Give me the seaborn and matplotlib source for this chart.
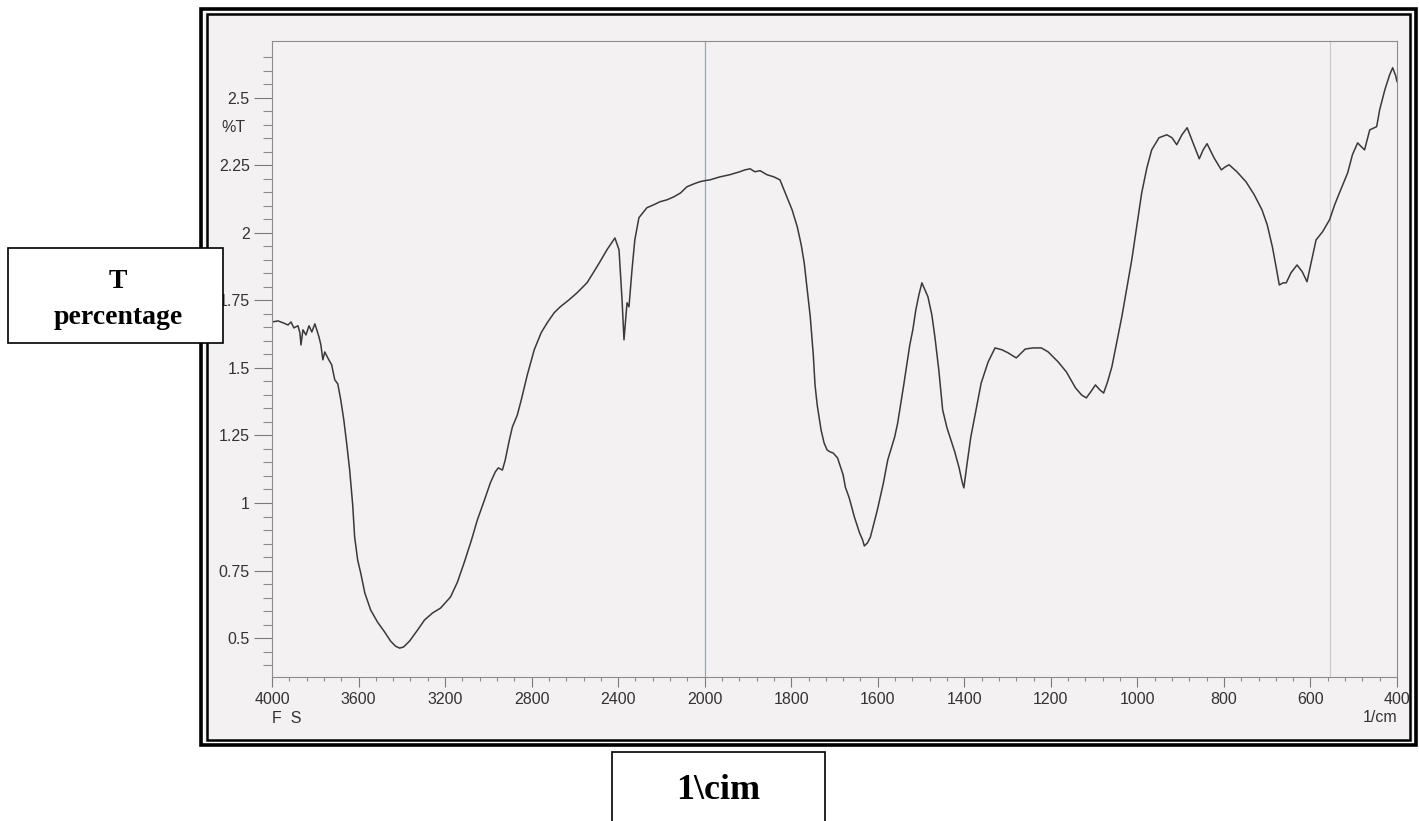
"""
FTIR spectrum (scanned print-out), redrawn with seaborn.
Shimadzu style x axis: scale doubles below 2000 1/cm.
"""

import numpy as np
import matplotlib
matplotlib.use("Agg")
import matplotlib.pyplot as plt
import matplotlib.transforms as mtransforms
from matplotlib.patches import Rectangle
from matplotlib.ticker import FixedLocator
import seaborn as sns


# spectrum (1/cm, %T)
wavenumber = [
    4000, 3972, 3949, 3926, 3912, 3899, 3880, 3871, 3866, 3857,
    3843, 3829, 3816, 3802, 3793, 3783, 3774, 3765, 3756, 3742,
    3724, 3710, 3696, 3682, 3668, 3654, 3641, 3627, 3618, 3604,
    3590, 3571, 3544, 3512, 3479, 3452, 3429, 3410, 3392, 3364,
    3327, 3295, 3258, 3221, 3175, 3143, 3111, 3078, 3051, 3018,
    2991, 2968, 2954, 2935, 2922, 2903, 2889, 2866, 2848, 2820,
    2788, 2756, 2728, 2696, 2668, 2627, 2590, 2544, 2512, 2484,
    2452, 2415, 2396, 2382, 2373, 2359, 2350, 2336, 2323, 2304,
    2267, 2235, 2207, 2175, 2143, 2111, 2083, 2051, 2023, 2000,
    1988, 1965, 1942, 1919, 1907, 1895, 1884, 1872, 1856, 1840,
    1826, 1810, 1798, 1786, 1777, 1770, 1763, 1756, 1749, 1745,
    1740, 1731, 1724, 1717, 1710, 1703, 1693, 1686, 1680, 1675,
    1666, 1654, 1642, 1635, 1631, 1624, 1617, 1601, 1587, 1577,
    1570, 1561, 1554, 1540, 1526, 1519, 1512, 1505, 1498, 1491,
    1484, 1475, 1468, 1459, 1450, 1440, 1431, 1422, 1412, 1405,
    1401, 1394, 1385, 1373, 1361, 1345, 1329, 1313, 1299, 1280,
    1259, 1241, 1222, 1206, 1183, 1164, 1143, 1129, 1118, 1108,
    1097, 1087, 1078, 1069, 1059, 1048, 1036, 1025, 1013, 1001,
    990, 978, 967, 950, 932, 920, 909, 897, 885, 874,
    857, 848, 839, 823, 806, 797, 788, 770, 749, 730,
    712, 700, 688, 679, 672, 663, 656, 645, 631, 619,
    608, 598, 587, 572, 556, 544, 533, 514, 503, 491,
    482, 475, 463, 447, 440, 428, 417, 410, 403, 400,
]
transmittance = [
    1.670, 1.674, 1.667, 1.659, 1.670, 1.648, 1.656, 1.630, 1.585, 1.641,
    1.622, 1.656, 1.633, 1.663, 1.641, 1.615, 1.585, 1.530, 1.559, 1.537,
    1.511, 1.456, 1.441, 1.381, 1.307, 1.215, 1.122, 0.993, 0.874, 0.789,
    0.741, 0.667, 0.604, 0.559, 0.522, 0.489, 0.470, 0.463, 0.467, 0.489,
    0.530, 0.567, 0.593, 0.611, 0.652, 0.707, 0.781, 0.863, 0.937, 1.011,
    1.074, 1.115, 1.130, 1.122, 1.159, 1.233, 1.281, 1.326, 1.381, 1.474,
    1.567, 1.630, 1.667, 1.704, 1.726, 1.752, 1.778, 1.815, 1.856, 1.893,
    1.937, 1.981, 1.937, 1.752, 1.604, 1.741, 1.726, 1.863, 1.974, 2.056,
    2.093, 2.104, 2.115, 2.122, 2.133, 2.148, 2.170, 2.181, 2.189, 2.193,
    2.196, 2.207, 2.215, 2.226, 2.233, 2.237, 2.226, 2.230, 2.215, 2.207,
    2.196, 2.133, 2.085, 2.022, 1.956, 1.889, 1.789, 1.689, 1.548, 1.437,
    1.363, 1.270, 1.222, 1.196, 1.189, 1.185, 1.167, 1.133, 1.104, 1.059,
    1.019, 0.948, 0.889, 0.863, 0.841, 0.852, 0.874, 0.974, 1.074, 1.159,
    1.196, 1.244, 1.296, 1.437, 1.585, 1.641, 1.715, 1.770, 1.815, 1.789,
    1.763, 1.696, 1.615, 1.493, 1.344, 1.278, 1.233, 1.189, 1.130, 1.078,
    1.056, 1.141, 1.244, 1.344, 1.444, 1.522, 1.574, 1.567, 1.556, 1.537,
    1.570, 1.574, 1.574, 1.559, 1.522, 1.485, 1.426, 1.400, 1.389, 1.411,
    1.437, 1.419, 1.407, 1.448, 1.504, 1.593, 1.689, 1.789, 1.900, 2.030,
    2.148, 2.241, 2.307, 2.352, 2.363, 2.352, 2.326, 2.363, 2.389, 2.344,
    2.274, 2.307, 2.330, 2.278, 2.233, 2.244, 2.252, 2.226, 2.189, 2.141,
    2.085, 2.030, 1.948, 1.870, 1.807, 1.815, 1.815, 1.852, 1.881, 1.856,
    1.819, 1.893, 1.974, 2.004, 2.048, 2.104, 2.148, 2.222, 2.289, 2.333,
    2.318, 2.307, 2.381, 2.393, 2.456, 2.530, 2.585, 2.611, 2.581, 2.559,
]

x_ticks = [4000, 3600, 3200, 2800, 2400, 2000, 1800, 1600, 1400, 1200, 1000, 800, 600, 400]
x_tick_labels = ["4000", "3600", "3200", "2800", "2400", "2000", "1800",
                 "1600", "1400", "1200", "1000", "800", "600", "400"]
y_ticks = [0.5, 0.75, 1.0, 1.25, 1.5, 1.75, 2.0, 2.25, 2.5]
y_tick_labels = ["0.5", "0.75", "1", "1.25", "1.5", "1.75", "2", "2.25", "2.5"]


W, H = 1419, 821


def fig_box(x0, y0, x1, y1):
    # pixel box (top-left origin) -> figure fraction
    return (x0 / W, 1 - y1 / H, (x1 - x0) / W, (y1 - y0) / H)


def fwd(w):
    w = np.asarray(w, dtype=float)
    return np.where(w >= 2000, w, 2 * w - 2000)


def inv(u):
    u = np.asarray(u, dtype=float)
    return np.where(u >= 2000, u, (u + 2000) / 2)


sns.set_style("white")
plt.rcParams["font.family"] = ["Liberation Sans", "DejaVu Sans"]

fig = plt.figure(figsize=(W / 100, H / 100), dpi=100)
fig.patch.set_facecolor("white")

paper_color = "#f3f1f1"
x0, y0, w0, h0 = fig_box(204, 12, 1413, 742)
fig.add_artist(Rectangle((x0, y0), w0, h0, transform=fig.transFigure,
                         facecolor=paper_color, edgecolor="none", zorder=-5))

ax = fig.add_axes(fig_box(272, 41, 1397, 677))
ax.set_facecolor(paper_color)

sns.lineplot(x=wavenumber, y=transmittance, ax=ax, color="#3a3a3a",
             linewidth=1.1, estimator=None, sort=False)

ax.set_xscale("function", functions=(fwd, inv))
ax.set_xlim(4000, 400)
ax.set_ylim(0.356, 2.71)
ax.set_xlabel("")
ax.set_ylabel("")

ax.axvline(2000, color="#9aa6b2", linewidth=0.9, zorder=1)
ax.axvline(555, color="#c9c9c9", linewidth=0.8, zorder=1)

ax.set_xticks(x_ticks)
ax.set_xticklabels(x_tick_labels)
ax.xaxis.set_minor_locator(FixedLocator(list(np.arange(4000, 2000, -80)) + list(np.arange(2000, 399, -40))))
ax.set_yticks(y_ticks)
ax.set_yticklabels(y_tick_labels)
ax.yaxis.set_minor_locator(FixedLocator(np.arange(0.40, 2.66, 0.05)))

# seaborn "white" switches the tick marks off, turn them back on
ax.tick_params(which="both", bottom=True, left=True, top=False, right=False)
ax.tick_params(axis="y", which="major", direction="out", length=13, width=0.8,
               color="#7a7a7a", pad=3, labelsize=11.5, labelcolor="#333333")
ax.tick_params(axis="y", which="minor", direction="out", length=6.5, width=0.8, color="#8a8a8a")
ax.tick_params(axis="x", which="major", direction="out", length=7.5, width=0.8,
               color="#7a7a7a", pad=3, labelsize=11.5, labelcolor="#333333")
ax.tick_params(axis="x", which="minor", direction="out", length=3, width=0.8, color="#8a8a8a")

for side in ["left", "right", "top", "bottom"]:
    ax.spines[side].set_color("#8c8c8c")
    ax.spines[side].set_linewidth(0.8)

yblend = mtransforms.blended_transform_factory(ax.transAxes, ax.transData)
ax.text(-0.024, 2.39, "%T", transform=yblend, ha="right", va="center",
        fontsize=11.5, color="#333333")
ax.text(0.0, -0.065, "F  S", transform=ax.transAxes, ha="left", va="center",
        fontsize=11.5, color="#333333")
ax.text(1.0, -0.063, "1/cm", transform=ax.transAxes, ha="right", va="center",
        fontsize=11.5, color="#333333")

# double black frame around the print-out
for box, lw in [((201, 9, 1416, 745), 2.6), ((206.5, 14.5, 1410.5, 739.5), 1.8)]:
    bx, by, bw, bh = fig_box(*box)
    fig.add_artist(Rectangle((bx, by), bw, bh, transform=fig.transFigure,
                             fill=False, edgecolor="black", linewidth=lw, zorder=5))

# label boxes
serif = ["Liberation Serif", "DejaVu Serif"]
bx, by, bw, bh = fig_box(8, 248, 223, 343)
fig.add_artist(Rectangle((bx, by), bw, bh, transform=fig.transFigure,
                         facecolor="white", edgecolor="black", linewidth=1.2, zorder=6))
fig.text(118 / W, 1 - 281 / H, "T", ha="center", va="center", fontsize=20,
         fontweight="bold", family=serif, color="black", zorder=7)
fig.text(118 / W, 1 - 318 / H, "percentage", ha="center", va="center", fontsize=20,
         fontweight="bold", family=serif, color="black", zorder=7)

bx, by, bw, bh = fig_box(612, 752, 825, 835)
fig.add_artist(Rectangle((bx, by), bw, bh, transform=fig.transFigure,
                         facecolor="white", edgecolor="black", linewidth=1.2, zorder=6))
fig.text(718 / W, 1 - 790 / H, "1\\cim", ha="center", va="center", fontsize=26,
         fontweight="bold", family=serif, color="black", zorder=7)

fig.savefig("out.png", dpi=100)
plt.close(fig)
